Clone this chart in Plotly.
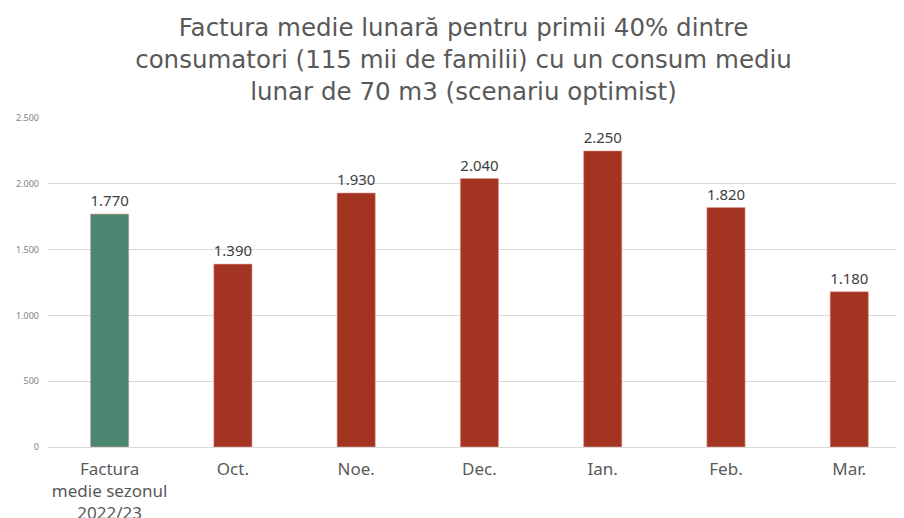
import plotly.graph_objects as go

categories = ["Factura<br>medie sezonul<br>2022/23", "Oct.", "Noe.", "Dec.", "Ian.", "Feb.", "Mar."]
values = [1770, 1390, 1930, 2040, 2250, 1820, 1180]
labels = ["1.770", "1.390", "1.930", "2.040", "2.250", "1.820", "1.180"]
colors = ["#4A8670", "#A33422", "#A33422", "#A33422", "#A33422", "#A33422", "#A33422"]
tick_vals = [0, 500, 1000, 1500, 2000, 2500]
tick_text = ["0", "500", "1.000", "1.500", "2.000", "2.500"]

title = ("Factura medie lunară pentru primii 40% dintre<br>"
         "consumatori (115 mii de familii) cu un consum mediu<br>"
         "lunar de 70 m3 (scenariu optimist)")

fig = go.Figure(go.Bar(
    x=list(range(len(categories))), y=values, width=0.31,
    marker=dict(color=colors, line=dict(color="rgba(230,160,150,0.6)", width=1)),
    text=labels, textposition="outside", cliponaxis=False,
    textfont=dict(size=16, color="#404040", family="Noto Sans"),
))

fig.update_layout(
    width=904, height=518,
    margin=dict(l=40, r=8, t=110, b=79, autoexpand=False),
    plot_bgcolor="white", paper_bgcolor="white",
    font=dict(family="Noto Sans", color="#595959"),
    title=dict(text=title, x=455.5 / 904, xanchor="center", xref="container",
               yref="container", y=1 - 28 / 518, yanchor="middle",
               font=dict(size=24.5, color="#595959", family="DejaVu Sans")),
    showlegend=False,
    xaxis=dict(range=[-0.5, 6.444], tickmode="array", tickvals=list(range(len(categories))),
               ticktext=categories, showgrid=False, zeroline=False, showline=False,
               tickfont=dict(size=17, color="#595959"), ticks="", ticklabelstandoff=10,
               automargin=False),
    yaxis=dict(range=[0, 2500], tickmode="array", tickvals=tick_vals, ticktext=tick_text,
               showgrid=True, gridcolor="#D9D9D9", gridwidth=1, zeroline=True,
               zerolinecolor="#D9D9D9", zerolinewidth=1, showline=False,
               tickfont=dict(size=9, color="#7F7F7F"), ticklabelstandoff=8,
               automargin=False),
)

fig.write_html("out.html")
